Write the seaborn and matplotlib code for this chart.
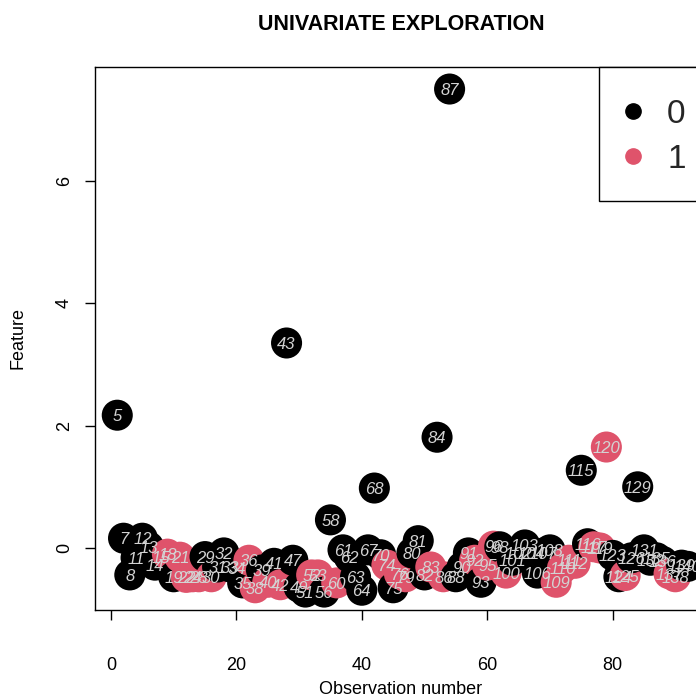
import matplotlib
matplotlib.use("Agg")
import matplotlib.pyplot as plt
from matplotlib.lines import Line2D
from matplotlib.patches import Rectangle
import numpy as np
import pandas as pd
import seaborn as sns

# Row ids of the observations, in plotting order
obs_id = [5, 7, 8, 11, 12, 13, 14, 15, 18, 19,
          21, 22, 24, 28, 29, 30, 31, 32, 33, 34,
          35, 36, 38, 39, 40, 41, 42, 43, 47, 49,
          51, 52, 53, 56, 58, 60, 61, 62, 63, 64,
          67, 68, 70, 74, 75, 76, 79, 80, 81, 82,
          83, 84, 86, 87, 88, 90, 91, 92, 93, 95,
          96, 98, 100, 101, 102, 103, 104, 106, 107, 108,
          109, 110, 111, 112, 115, 116, 117, 119, 120, 123,
          124, 125, 126, 129, 131, 132, 135, 136, 137, 138,
          139, 140]

# Feature value of each observation
feature = [2.17, 0.16, -0.44, -0.16, 0.16, 0.02, -0.28, -0.15, -0.10, -0.47,
           -0.15, -0.48, -0.47, -0.47, -0.14, -0.47, -0.31, -0.08, -0.31, -0.33,
           -0.57, -0.20, -0.65, -0.36, -0.56, -0.25, -0.60, 3.35, -0.20, -0.64,
           -0.72, -0.44, -0.44, -0.72, 0.46, -0.57, -0.03, -0.15, -0.47, -0.69,
           -0.03, 0.98, -0.11, -0.28, -0.65, -0.42, -0.47, -0.08, 0.12, -0.44,
           -0.31, 1.81, -0.47, 7.50, -0.47, -0.31, -0.08, -0.20, -0.56, -0.28,
           0.03, 0.02, -0.41, -0.20, -0.08, 0.05, -0.08, -0.41, -0.08, -0.03,
           -0.56, -0.33, -0.20, -0.25, 1.27, 0.07, 0.02, 0.00, 1.65, -0.12,
           -0.47, -0.45, -0.16, 1.00, -0.03, -0.20, -0.16, -0.22, -0.42, -0.47,
           -0.28, -0.30]

# Class of each observation
group = [0, 0, 0, 0, 0, 0, 0, 0, 1, 0,
         1, 1, 1, 1, 0, 1, 0, 0, 0, 0,
         0, 1, 1, 0, 1, 0, 1, 0, 0, 0,
         0, 1, 1, 0, 0, 1, 0, 0, 0, 0,
         0, 0, 0, 1, 0, 1, 1, 0, 0, 0,
         1, 0, 1, 0, 0, 0, 0, 1, 0, 1,
         1, 0, 1, 0, 0, 0, 0, 0, 0, 0,
         1, 1, 1, 1, 0, 0, 1, 1, 1, 0,
         0, 1, 0, 0, 0, 0, 0, 0, 1, 1,
         0, 0]

group_levels = [0, 1]
group_colors = ["#000000", "#DF536B"]

df = pd.DataFrame({
    "obs": np.arange(1, len(feature) + 1),
    "feature": feature,
    "group": group,
    "label": obs_id,
})

sns.set_theme(style="white")
plt.rcParams["font.family"] = ["Liberation Sans", "DejaVu Sans"]

W, H = 696, 697
fig = plt.figure(figsize=(W / 100, H / 100), dpi=100)
fig.patch.set_facecolor("white")

# plot region (extends a little past the right edge of the canvas)
left, right, top, bottom = 95, 707, 67, 610
ax = fig.add_axes([left / W, 1 - bottom / H, (right - left) / W, (bottom - top) / H])

palette = dict(zip(group_levels, group_colors))
sns.scatterplot(data=df, x="obs", y="feature", hue="group", palette=palette,
                s=500, linewidth=0, legend=False, ax=ax, zorder=2)

for _, r in df.iterrows():
    ax.text(r["obs"], r["feature"], str(int(r["label"])), color="#D3D3D3",
            fontsize=12, fontstyle="italic", ha="center", va="center_baseline",
            zorder=3)

ax.set_xlim(-2.55, 95.05)
ax.set_ylim(-1.013, 7.86)
ax.set_xticks([0, 20, 40, 60, 80])
ax.set_yticks([0, 2, 4, 6])

for s in ax.spines.values():
    s.set_visible(True)
    s.set_color("black")
    s.set_linewidth(1.0)

ax.tick_params(axis="both", which="major", direction="out", length=7,
               width=1.0, color="black", labelsize=13, labelcolor="black",
               bottom=True, left=True)
ax.tick_params(axis="x", pad=27)
ax.tick_params(axis="y", pad=9)
for lab in ax.get_yticklabels():
    lab.set_rotation(90)
    lab.set_va("center")

ax.set_xlabel("Observation number", fontsize=13, color="black")
ax.set_ylabel("Feature", fontsize=13, color="black")
ax.xaxis.set_label_coords(0.5, (bottom - 689) / (bottom - top))
ax.xaxis.label.set_va("center")
ax.yaxis.set_label_coords((18 - left) / (right - left), 0.5)
ax.yaxis.label.set_va("center")

fig.text(401 / W, 1 - 24 / H, "UNIVARIATE EXPLORATION", fontsize=15.5,
         fontweight="bold", ha="center", va="center", color="black")

# legend box in the top-right corner of the plot region
box = Rectangle((599 / W, 1 - 201 / H), (right + 2 - 599) / W,
                (201 - top) / H, transform=fig.transFigure,
                facecolor="white", edgecolor="black", linewidth=1.0,
                zorder=4, clip_on=False)
ax.add_patch(box)
handles = [Line2D([], [], marker="o", linestyle="", color=c, markersize=11)
           for c in group_colors]
leg = ax.legend(handles, [str(g) for g in group_levels], loc="upper left",
                bbox_to_anchor=(616.5 / W, 1 - 99 / H),
                bbox_transform=fig.transFigure, frameon=False, fontsize=24,
                handlelength=1.0, handletextpad=0.52, borderpad=0,
                borderaxespad=0, labelspacing=0.41)
leg.set_zorder(6)

fig.savefig("out.png", dpi=100)
